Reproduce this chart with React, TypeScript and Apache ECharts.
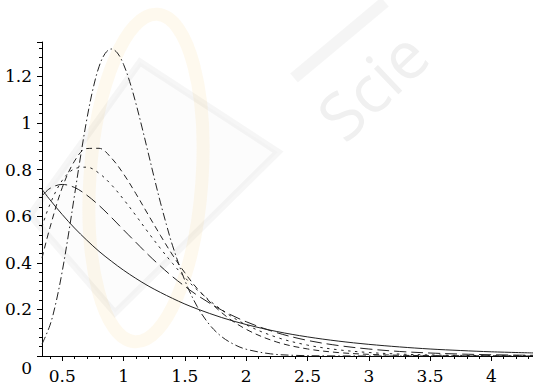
import React, { useEffect, useRef } from "react";
import * as echarts from "echarts";

// x sample positions
const xMain = [0.335, 0.4, 0.5, 0.6, 0.7, 0.8, 0.9, 1.0, 1.1, 1.2, 1.3, 1.4, 1.5, 1.6, 1.8, 2.0, 2.25, 2.5, 2.75, 3.0, 3.25, 3.5, 3.75, 4.0, 4.35];
const ySolid = [0.715, 0.670, 0.607, 0.549, 0.497, 0.449, 0.407, 0.368, 0.333, 0.301, 0.273, 0.247, 0.223, 0.202, 0.165, 0.135, 0.105, 0.082, 0.064, 0.050, 0.039, 0.030, 0.0235, 0.018, 0.013];
const yLongDash = [0.686, 0.719, 0.736, 0.723, 0.690, 0.646, 0.595, 0.541, 0.488, 0.435, 0.386, 0.340, 0.299, 0.261, 0.197, 0.147, 0.100, 0.067, 0.045, 0.030, 0.0195, 0.0128, 0.0083, 0.0054, 0.0029];
const yDotted = [0.554, 0.651, 0.753, 0.803, 0.810, 0.784, 0.735, 0.672, 0.603, 0.531, 0.462, 0.397, 0.337, 0.284, 0.198, 0.134, 0.080, 0.0467, 0.0267, 0.0150, 0.0083, 0.0045, 0.0025, 0.0013, 0.0006];
const yDash = [0.420, 0.551, 0.722, 0.836, 0.890, 0.891, 0.850, 0.781, 0.697, 0.607, 0.518, 0.433, 0.357, 0.290, 0.186, 0.1145, 0.0599, 0.0303, 0.0148, 0.0071, 0.0033, 0.0015, 0.0007, 0.0003, 0.0001];

const xPeak = [0.335, 0.4, 0.45, 0.5, 0.55, 0.6, 0.65, 0.7, 0.75, 0.8, 0.85, 0.9, 0.95, 1.0, 1.05, 1.1, 1.15, 1.2, 1.25, 1.3, 1.35, 1.4, 1.5, 1.6, 1.7, 1.8, 1.9, 2.0, 2.2, 2.4, 2.7, 3.0, 3.5, 4.0, 4.35];
const yDashDot = [0.051, 0.132, 0.232, 0.363, 0.519, 0.689, 0.858, 1.014, 1.144, 1.241, 1.298, 1.317, 1.300, 1.251, 1.177, 1.085, 0.982, 0.874, 0.765, 0.660, 0.563, 0.473, 0.324, 0.213, 0.135, 0.083, 0.050, 0.029, 0.0093, 0.0027, 0.0004, 0.0001, 0, 0, 0];

const yTickLabels = ["0.2", "0.4", "0.6", "0.8", "1", "1.2"];
const xMajorTicks = [0.5, 1, 1.5, 2, 2.5, 3, 3.5, 4];
const xMinorTicks = [0.4, 0.5, 0.6, 0.7, 0.8, 0.9, 1.0, 1.1, 1.2, 1.3, 1.4, 1.5, 1.6, 1.7, 1.8, 1.9, 2.0, 2.1, 2.2, 2.3, 2.4, 2.5, 2.6, 2.7, 2.8, 2.9, 3.0, 3.1, 3.2, 3.3, 3.4, 3.5, 3.6, 3.7, 3.8, 3.9, 4.0, 4.1, 4.2, 4.3];

const pair = (xs: number[], ys: number[]) => xs.map((x, i) => [x, ys[i]]);

export default function App() {
  const ref = useRef<HTMLDivElement>(null);
  useEffect(() => {
    document.body.style.margin = "0";
    const chart = echarts.init(ref.current!, null, { renderer: "svg" });
    const serif = "DejaVu Serif";
    const lineColor = "#222";
    const mk = (name: string, xs: number[], ys: number[], type: any) => ({
      name,
      type: "line",
      data: pair(xs, ys),
      showSymbol: false,
      symbol: "none",
      smooth: 0.35,
      lineStyle: { color: lineColor, width: 1, type },
      z: 5,
    });
    const xBase = {
      type: "value",
      min: 0.335,
      max: 4.339,
      position: "bottom",
      offset: 0,
      splitLine: { show: false },
      minorTick: { show: false },
    };
    chart.setOption({
      animation: false,
      backgroundColor: "#fff",
      grid: { left: 42, right: 0, top: 42, bottom: 31, containLabel: false },
      xAxis: [
        {
          ...xBase,
          axisLine: { show: true, onZero: false, lineStyle: { color: "#000", width: 1 } },
          axisTick: { show: true, inside: false, length: 3, customValues: xMinorTicks, lineStyle: { color: "#000" } },
          axisLabel: { show: false },
        },
        {
          ...xBase,
          axisLine: { show: false, onZero: false },
          axisTick: { show: true, inside: false, length: 5, customValues: xMajorTicks, lineStyle: { color: "#000" } },
          axisLabel: {
            show: true,
            customValues: xMajorTicks,
            margin: 11,
            fontFamily: serif,
            fontSize: 17,
            color: "#000",
            formatter: (v: number) => String(v),
          },
        },
      ],
      yAxis: {
        type: "value",
        min: 0,
        max: 1.347,
        interval: 0.2,
        axisLine: { show: true, lineStyle: { color: "#000", width: 1 } },
        axisTick: { show: true, inside: false, length: 5, lineStyle: { color: "#000" } },
        minorTick: { show: true, splitNumber: 5, length: 3, lineStyle: { color: "#000" } },
        splitLine: { show: false },
        axisLabel: {
          showMaxLabel: false,
          margin: 10,
          fontFamily: serif,
          fontSize: 17,
          color: "#000",
          formatter: (v: number) => {
            const s = String(Math.round(v * 10) / 10);
            return yTickLabels.includes(s) ? s : "";
          },
        },
      },
      graphic: [
        {
          type: "ellipse",
          z: -10,
          silent: true,
          x: 146,
          y: 178,
          rotation: -0.07,
          shape: { cx: 0, cy: 0, rx: 56, ry: 164 },
          style: { fill: "none", stroke: "rgba(250,205,120,0.13)", lineWidth: 13 },
        },
        {
          type: "polygon",
          z: -10,
          silent: true,
          shape: { points: [[140, 62], [278, 152], [115, 313], [30, 215]] },
          style: { fill: "rgba(0,0,0,0.012)", stroke: "rgba(0,0,0,0.035)", lineWidth: 7 },
        },
        {
          type: "line",
          z: -10,
          silent: true,
          shape: { x1: 294, y1: 78, x2: 385, y2: 2 },
          style: { stroke: "rgba(0,0,0,0.04)", lineWidth: 12 },
        },
        {
          type: "text",
          z: -10,
          silent: true,
          x: 350,
          y: 150,
          rotation: 0.76,
          style: { text: "Scie", fontSize: 66, fontFamily: "Open Sans", fill: "#f0f0f0", textVerticalAlign: "bottom" },
        },
        {
          type: "text",
          x: 32,
          y: 368,
          style: { text: "0", fontSize: 17, fontFamily: serif, fill: "#000", textAlign: "right", textVerticalAlign: "middle" },
        },
      ],
      series: [
        mk("solid", xMain, ySolid, "solid"),
        mk("longDash", xMain, yLongDash, [12, 5]),
        mk("dotted", xMain, yDotted, [2.5, 4.5]),
        mk("dash", xMain, yDash, [6, 4]),
        mk("dashDot", xPeak, yDashDot, [8, 3, 1.5, 3]),
      ],
    });
    return () => chart.dispose();
  }, []);
  return <div ref={ref} style={{ position: "fixed", left: 0, top: 0, width: 533, height: 387 }} />;
}
